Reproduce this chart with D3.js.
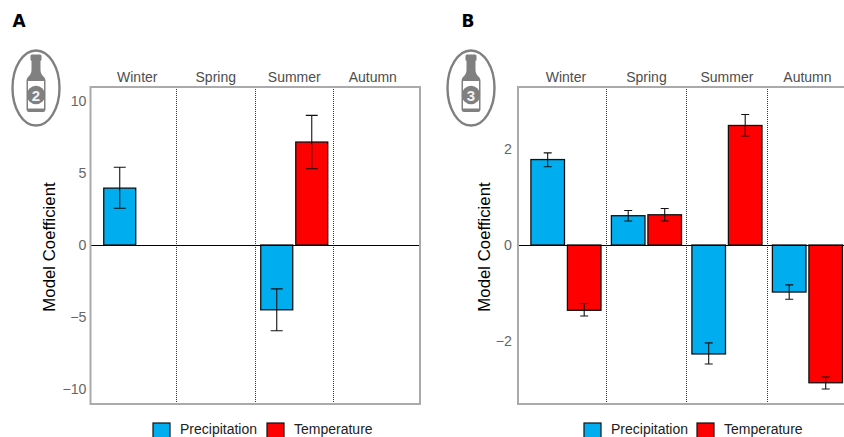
<!DOCTYPE html>
<html><head><meta charset="utf-8">
<style>html,body{margin:0;padding:0;background:#fff;overflow:hidden}svg{display:block}text{font-family:"Liberation Sans",Arial,sans-serif}</style>
<script src="https://cdn.jsdelivr.net/npm/d3@7"></script></head><body>
<script>
const seasons=["Winter","Spring","Summer","Autumn"];
const seriesNames=["Precipitation","Temperature"];
const seriesColors=["#00AEEF","#FF0000"];
// panel A
const aPrecip=[3.95,null,-4.5,null];
const aPrecipHi=[5.4,null,-3.05,null];
const aPrecipLo=[2.55,null,-5.95,null];
const aTemp=[null,null,7.15,null];
const aTempHi=[null,null,9.0,null];
const aTempLo=[null,null,5.3,null];
const aTicks=[-10,-5,0,5,10];
// panel B
const bPrecip=[1.78,0.61,-2.27,-0.98];
const bPrecipHi=[1.92,0.72,-2.04,-0.83];
const bPrecipLo=[1.63,0.5,-2.48,-1.13];
const bTemp=[-1.36,0.63,2.49,-2.87];
const bTempHi=[-1.22,0.76,2.72,-2.75];
const bTempLo=[-1.48,0.5,2.27,-3.0];
const bTicks=[-2,0,2];

const svg=d3.select("body").append("svg").attr("width",844).attr("height",437);
const grey="#aaaaaa", txt="#4d4d4d";

function panel(o){
  const g=svg.append("g");
  const y=d3.scaleLinear().domain(o.yDomain).range(o.yRange);
  const x=d3.scaleBand().domain(seasons).range(o.xRange);
  const inner=d3.scaleBand().domain(seriesNames).range([0,x.bandwidth()]).paddingInner(o.gap).paddingOuter(o.outer);
  const L=o.frame[0],R=o.frame[1],T=o.frame[2],B=o.frame[3];
  const clipId="c"+o.letter;
  svg.append("clipPath").attr("id",clipId).append("rect").attr("x",L).attr("y",T).attr("width",R-L).attr("height",B-T);
  const plot=g.append("g").attr("clip-path",`url(#${clipId})`);
  seasons.slice(1).forEach(s=>{
    const sx=Math.floor(x(s))+0.5;
    plot.append("line").attr("x1",sx).attr("x2",sx).attr("y1",T).attr("y2",B)
      .attr("stroke","#333").attr("stroke-width",1).attr("stroke-dasharray","1 1");
  });
  [[o.precip,o.precipHi,o.precipLo],[o.temp,o.tempHi,o.tempLo]].forEach((arr,si)=>{
    const name=seriesNames[si];
    seasons.forEach((s,i)=>{
      if(arr[0][i]==null) return;
      const bx=x(s)+inner(name), w=inner.bandwidth();
      const v=arr[0][i];
      plot.append("rect").attr("x",bx).attr("width",w)
        .attr("y",Math.min(y(v),y(0))).attr("height",Math.abs(y(v)-y(0)))
        .attr("fill",seriesColors[si]).attr("stroke","#111").attr("stroke-width",1.3);
      const c=bx+w/2, hw=o.cap;
      const p=d3.path();
      p.moveTo(c,y(arr[1][i]));p.lineTo(c,y(arr[2][i]));
      p.moveTo(c-hw,y(arr[1][i]));p.lineTo(c+hw,y(arr[1][i]));
      p.moveTo(c-hw,y(arr[2][i]));p.lineTo(c+hw,y(arr[2][i]));
      plot.append("path").attr("d",p.toString()).attr("fill","none").attr("stroke","#111").attr("stroke-width",1.1);
    });
  });
  plot.append("line").attr("x1",L).attr("x2",R).attr("y1",y(0)+0.5).attr("y2",y(0)+0.5).attr("stroke","#000").attr("stroke-width",1);
  g.append("rect").attr("x",L).attr("y",T).attr("width",R-L).attr("height",B-T)
    .attr("fill","none").attr("stroke",grey).attr("stroke-width",2);
  const ax=d3.axisLeft(y).tickValues(o.ticks).tickSize(0).tickPadding(o.tickPad)
    .tickFormat(d=>d<0?"\u2212"+Math.abs(d):d);
  const ag=g.append("g").attr("transform",`translate(${L},0)`).call(ax);
  ag.select(".domain").remove();
  ag.selectAll("text").attr("font-size",14.2).attr("fill","#666").attr("font-family",'"Liberation Sans",Arial,sans-serif');
  seasons.forEach(s=>{
    g.append("text").attr("x",x(s)+x.bandwidth()/2).attr("y",82).attr("text-anchor","middle")
      .attr("font-size",14).attr("fill",txt).text(s);
  });
  g.append("text").attr("transform",`translate(${o.titleX},${(T+B)/2+1.5}) rotate(-90)`).attr("text-anchor","middle")
    .attr("font-size",16.8).attr("fill","#000").text("Model Coefficient");
  g.append("text").attr("x",o.letterX).attr("y",27).attr("font-size",17).attr("font-weight","bold")
    .style("font-family",'"DejaVu Sans",sans-serif').attr("fill","#000").text(o.letter);
  // bottle badge
  const b=g.append("g").attr("transform",`translate(${o.badgeX},88)`);
  b.append("ellipse").attr("rx",23.5).attr("ry",37.5).attr("fill","#fff").attr("stroke","#808080").attr("stroke-width",2.4);
  b.append("path").attr("fill","#808080")
    .attr("d","M-5.5,-32 Q-5.5,-33.5 -4,-33.5 L4,-33.5 Q5.5,-33.5 5.5,-32 L5.5,-28 L4.5,-27 L4.5,-18 Q4.5,-14 8,-11 Q9.5,-9.5 9.5,-7 L9.5,21 Q9.5,24 7,24 L-7,24 Q-9.5,24 -9.5,21 L-9.5,-7 Q-9.5,-9.5 -8,-11 Q-4.5,-14 -4.5,-18 L-4.5,-27 L-5.5,-28 Z");
  b.append("rect").attr("x",-8).attr("y",-7).attr("width",16).attr("height",27.5).attr("fill","#fff");
  b.append("circle").attr("cx",0).attr("cy",7).attr("r",9.2).attr("fill","#808080");
  b.append("text").attr("x",0).attr("y",12.5).attr("text-anchor","middle").attr("font-size",15).attr("font-weight","bold").attr("fill","#f2f2f2").text(o.badge);
  const lg=g.append("g");
  seriesNames.forEach((n,i)=>{
    lg.append("rect").attr("x",o.legX[i]).attr("y",423).attr("width",17).attr("height",18)
      .attr("fill",seriesColors[i]).attr("stroke","#111").attr("stroke-width",1.2);
    lg.append("text").attr("x",o.legX[i]+27).attr("y",434).attr("font-size",14).attr("fill","#222").text(n);
  });
}
panel({letter:"A",letterX:12.5,badge:"2",badgeX:36,
  frame:[90.5,420,87,404],xRange:[98,412],yDomain:[-10,10],yRange:[389,101],ticks:aTicks,
  gap:0.086,outer:0.164,cap:6,tickPad:4,titleX:55,
  precip:aPrecip,precipHi:aPrecipHi,precipLo:aPrecipLo,temp:aTemp,tempHi:aTempHi,tempLo:aTempLo,legX:[153,267]});
panel({letter:"B",letterX:461.5,badge:"3",badgeX:471,
  frame:[518,846,87,404],xRange:[525.7,847.7],yDomain:[-2,2],yRange:[341,149],ticks:bTicks,
  gap:0.08,outer:0.1425,cap:4,tickPad:6,titleX:490,
  precip:bPrecip,precipHi:bPrecipHi,precipLo:bPrecipLo,temp:bTemp,tempHi:bTempHi,tempLo:bTempLo,legX:[584,697]});
</script></body></html>
